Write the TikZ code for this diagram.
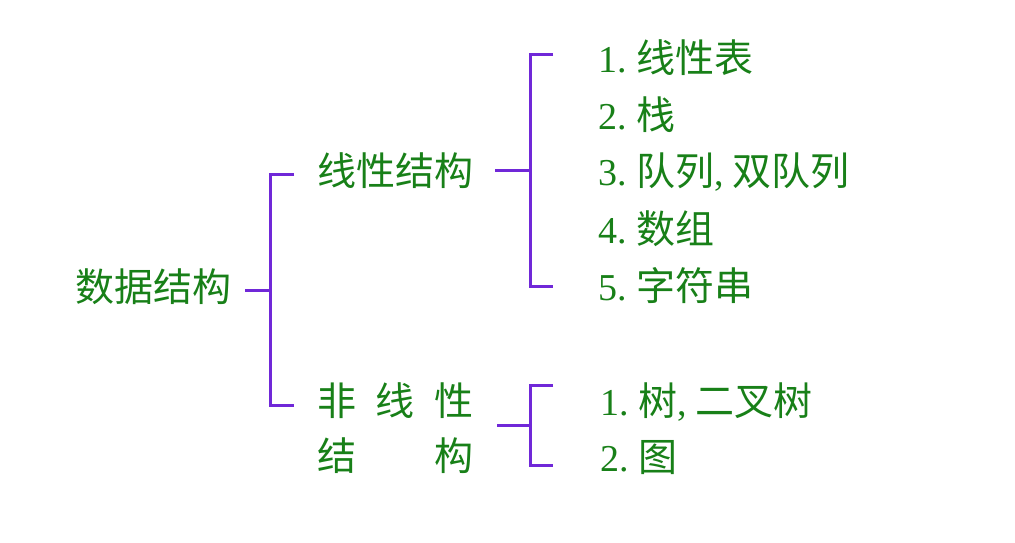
\documentclass[tikz,border=0pt]{standalone}
\usepackage{fontspec}
\setmainfont{Liberation Serif}
\newfontfamily\cjk{Noto Sans CJK SC}
\definecolor{txtgreen}{RGB}{24,128,24}
\definecolor{brpurple}{RGB}{112,40,216}
\newcommand\cn[1]{{\cjk\fontsize{19.5}{22}\selectfont #1}}
\begin{document}
\begin{tikzpicture}[x=0.5pt,y=-0.5pt,
  lbl/.style={anchor=west,inner sep=0pt,text=txtgreen,font=\cjk\fontsize{19.5}{22}\selectfont},
  itm/.style={anchor=west,inner sep=0pt,text=txtgreen,font=\fontsize{19}{22}\selectfont},
  br/.style={draw=brpurple,line width=1.5pt,line cap=butt,line join=miter}]
\useasboundingbox[fill=white] (0,0) rectangle (1015,542);
% labels
\node[lbl] (root) at (75,287) {数据结构};
\node[lbl] (lin) at (317,171) {线性结构};
\node[lbl] (nl1) at (317,401) {\makebox[78pt][l]{非\hfill 线\hfill 性}};
\node[lbl] (nl2) at (317,456) {\makebox[78pt][l]{结\hfill 构}};
% linear items
\node[itm] (a1) at (598,58)  {1.\hspace{5pt}\cn{线性表}};
\node[itm] (a2) at (598,115) {2.\hspace{5pt}\cn{栈}};
\node[itm] (a3) at (598,172) {3.\hspace{5pt}\cn{队列},\hspace{4pt}\cn{双队列}};
\node[itm] (a4) at (598,229) {4.\hspace{5pt}\cn{数组}};
\node[itm] (a5) at (598,286) {5.\hspace{5pt}\cn{字符串}};
% non-linear items
\node[itm] (b1) at (600,402) {1.\hspace{5pt}\cn{树},\hspace{4pt}\cn{二叉树}};
\node[itm] (b2) at (600,458) {2.\hspace{5pt}\cn{图}};
% bracket coordinates
\coordinate (r0) at (245,290);
\coordinate (rm) at (270,290);
\coordinate (rt) at (294,174);
\coordinate (rb) at (294,405);
\coordinate (l0) at (495,170);
\coordinate (lm) at (530,170);
\coordinate (lt) at (553,54);
\coordinate (lb) at (553,286);
\coordinate (n0) at (497,425);
\coordinate (nm) at (530,425);
\coordinate (nt) at (553,385);
\coordinate (nb) at (553,465);
% brackets
\draw[br] (r0) -- (rm);
\draw[br] (rt) -| (rm) |- (rb);
\draw[br] (l0) -- (lm);
\draw[br] (lt) -| (lm) |- (lb);
\draw[br] (n0) -- (nm);
\draw[br] (nt) -| (nm) |- (nb);
\end{tikzpicture}
\end{document}
